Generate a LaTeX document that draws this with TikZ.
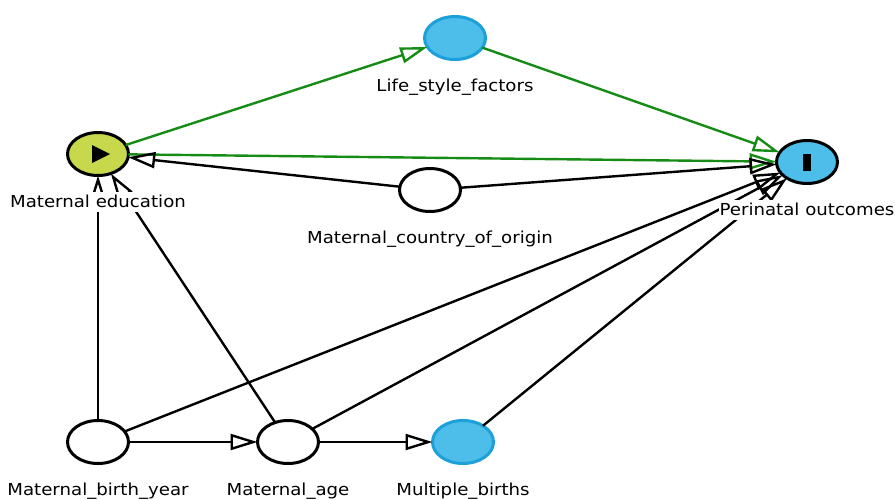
\documentclass[tikz,border=0pt]{standalone}
\usepackage{fontspec}
\setmainfont{DejaVu Sans}[FakeStretch=1.1]
\usepackage{xcolor}
\usepackage{tikz}
\usetikzlibrary{shapes, arrows.meta, positioning}
\definecolor{causalgreen}{RGB}{22,140,22}
\definecolor{outcblue}{RGB}{77,189,233}
\definecolor{outcedge}{RGB}{28,160,218}
\definecolor{expoyellow}{RGB}{199,216,76}
\tikzset{
	% any variable
	var/.style={
		ellipse,
		draw,
		line width=3pt,
		fill=white,
		minimum width=61pt,
		minimum height=43pt,
		inner sep=0pt,
		outer sep=0pt
	}, %
	% exposure
	expo/.style={var, fill=expoyellow}, %
	% outcome
	outc/.style={var, fill=outcblue}, %
	% ancestor of outcome
	anc/.style={var, fill=outcblue, draw=outcedge}, %
	% names under the ellipses
	lbl/.style={
		fill=white,
		inner sep=1pt,
		text height=15pt,
		text depth=3.5pt,
		font=\fontsize{16.5}{19}\selectfont
	}, %
	% edges
	arc/.style={
		-{Triangle[open, length=27pt, width=16pt, line width=2.4pt]},
		line width=2.4pt
	}, %
	causal/.style={arc, causalgreen}
}

\begin{document}
\begin{tikzpicture}[x=1pt, y=-1pt]
	\useasboundingbox (0,0) rectangle (895,499);
	
	%% variables
	\node [expo] (edu) at (98,154) {};
	\node [anc] (life) at (455,38) {};
	\node [var] (country) at (430,190) {};
	\node [outc] (perin) at (807,162) {};
	\node [var] (byear) at (98,442) {};
	\node [var] (age) at (288,442) {};
	\node [anc] (multi) at (463,442) {};
	
	%% marks for exposure and outcome
	\fill ([shift={(-6,-9)}]edu.center) -- ([shift={(-6,9)}]edu.center) -- ([shift={(12,0)}]edu.center) -- cycle;
	\fill ([shift={(-4,-8.5)}]perin.center) rectangle ([shift={(4,8.5)}]perin.center);
	
	%% causal paths
	\draw [causal] (edu) -- (life);
	\draw [causal] (life) -- (perin);
	\draw [causal] (edu) -- (perin);
	
	%% other arrows
	\draw [arc] (country) -- (edu);
	\draw [arc] (country) -- (perin);
	\draw [arc] (byear) -- (edu);
	\draw [arc] (age) -- (edu);
	\draw [arc] (byear) -- (age);
	\draw [arc] (byear) -- (perin);
	\draw [arc] (age) -- (perin);
	\draw [arc] (age) -- (multi);
	\draw [arc] (multi) -- (perin);
	
	%% names
	\node [lbl, below=16pt of edu] (edulbl) {Maternal education};
	\node [lbl, below=16pt of life] (lifelbl) {Life\_style\_factors};
	\node [lbl, below=16pt of country] (countrylbl) {Maternal\_country\_of\_origin};
	\node [lbl, below=16pt of perin] (perinlbl) {Perinatal outcomes};
	\node [lbl, below=16pt of byear] (byearlbl) {Maternal\_birth\_year};
	\node [lbl, below=16pt of age] (agelbl) {Maternal\_age};
	\node [lbl, below=16pt of multi] (multilbl) {Multiple\_births};
\end{tikzpicture}
\end{document}
